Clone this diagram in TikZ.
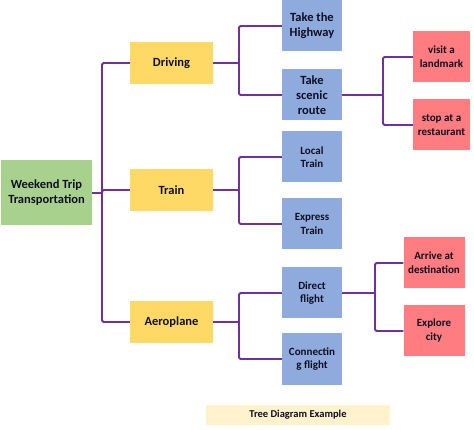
\documentclass[tikz,border=0pt]{standalone}
\usepackage{fontspec}
\setmainfont{Carlito}
\begin{document}
\begin{tikzpicture}[x=1pt,y=-1pt,
  box/.style={draw=none,minimum width=#1,inner sep=1pt,align=center,font=\fontsize{12.5}{15}\selectfont\bfseries,text={rgb,255:red,15;green,15;blue,35}},
  small/.style={font=\fontsize{11}{13.5}\selectfont\bfseries},
  mid/.style={font=\fontsize{11}{14}\selectfont\bfseries},
  gbox/.style={box=91pt,fill={rgb,255:red,169;green,209;blue,142},minimum height=65pt},
  ybox/.style={box=83pt,fill={rgb,255:red,255;green,217;blue,102},minimum height=42pt},
  bbox/.style={box=60pt,fill={rgb,255:red,143;green,170;blue,220},minimum height=51pt},
  rbox/.style={box=#1,mid,fill={rgb,255:red,255;green,124;blue,128},minimum height=51pt},
  link/.style={draw={rgb,255:red,112;green,48;blue,160},line width=1.8pt,rounded corners=1.5pt}]
\useasboundingbox (0,0) rectangle (474,430);
\node[gbox] (root) at (46.5,193) {Weekend Trip\\Transportation};
\node[ybox] (drv) at (171.5,63) {Driving};
\node[ybox] (trn) at (171.5,190) {Train};
\node[ybox] (aer) at (171.5,322) {Aeroplane};
\node[bbox] (hwy) at (312,26) {Take the\\Highway};
\node[bbox] (scn) at (312,95) {Take\\scenic\\route};
\node[bbox,small] (loc) at (312,157) {Local\\Train};
\node[bbox,small] (exp) at (312,224) {Express\\Train};
\node[bbox,small] (dir) at (312,293) {Direct\\flight};
\node[bbox,small] (con) at (312,359) {Connectin\\g flight};
\node[rbox=57pt] (lmk) at (441.5,57) {visit a\\landmark};
\node[rbox=57pt] (rst) at (441.5,125) {stop at a\\restaurant};
\node[rbox=61pt] (arr) at (434,263) {Arrive at\\destination};
\node[rbox=61pt] (exc) at (434,331) {Explore\\city};
\node[fill={rgb,255:red,255;green,242;blue,204},minimum width=184pt,minimum height=20pt,font=\fontsize{10.5}{12}\selectfont\bfseries,text={rgb,255:red,15;green,15;blue,35}] (cap) at (298,415) {Tree Diagram Example};
\coordinate (j0) at (102,193);
\coordinate (j1) at (239,63);
\coordinate (j2) at (239,190);
\coordinate (j3) at (239,322);
\coordinate (j4) at (383,95);
\coordinate (j5) at (375,293);
\draw[link] (root.east) -- (j0);
\draw[link] (j0) |- (drv.west);
\draw[link] (j0) |- (trn.west);
\draw[link] (j0) |- (aer.west);
\draw[link] (drv.east) -- (j1);
\draw[link] (j1) |- (hwy.west);
\draw[link] (j1) |- (scn.west);
\draw[link] (trn.east) -- (j2);
\draw[link] (j2) |- (loc.west);
\draw[link] (j2) |- (exp.west);
\draw[link] (aer.east) -- (j3);
\draw[link] (j3) |- (dir.west);
\draw[link] (j3) |- (con.west);
\draw[link] (scn.east) -- (j4);
\draw[link] (j4) |- (lmk.west);
\draw[link] (j4) |- (rst.west);
\draw[link] (dir.east) -- (j5);
\draw[link] (j5) |- (arr.west);
\draw[link] (j5) |- (exc.west);
\end{tikzpicture}
\end{document}
